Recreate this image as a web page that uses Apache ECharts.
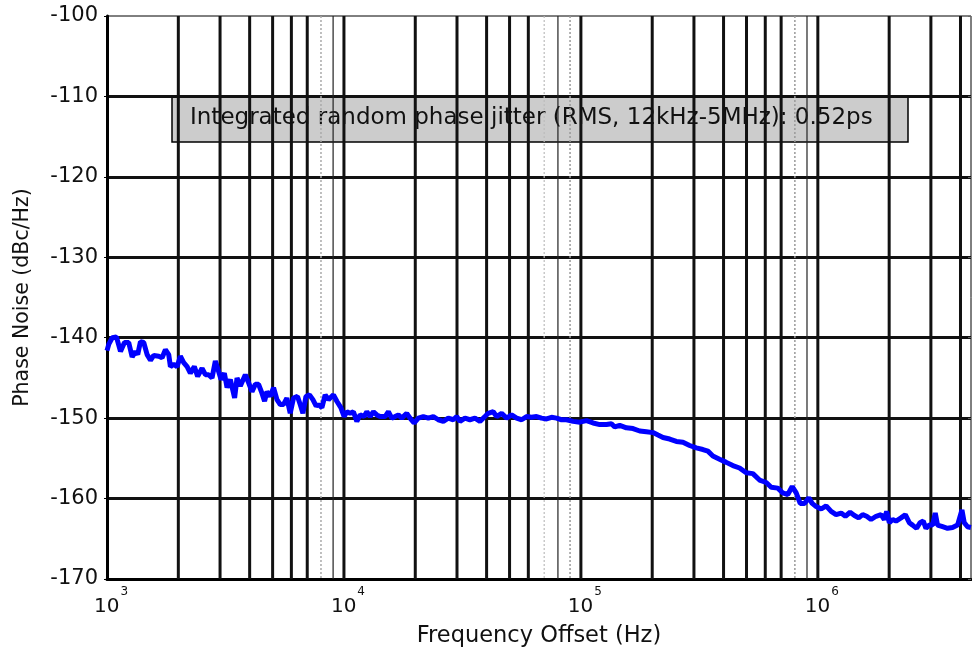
<!DOCTYPE html>
<html>
<head>
<meta charset="utf-8">
<script src="https://cdn.jsdelivr.net/npm/echarts@6/dist/echarts.min.js"></script>
<style>
html,body{margin:0;padding:0;background:#fff;}
#c{width:972px;height:656px;}
</style>
</head>
<body>
<div id="c"></div>
<script>
// Frequency offset (Hz)
var freqs = [1000,1018,1052,1096,1140,1185,1235,1277,1318,1348,1384,1429,1477,1526,1575,1653,1708,1764,1822,1852,1912,1976,2040,2107,2178,2248,2337,2413,2519,2601,2685,2775,2866,2959,3029,3128,3211,3315,3456,3538,3653,3835,3960,4092,4226,4363,4508,4624,4733,4887,5046,5215,5384,5560,5744,5932,6126,6368,6538,6712,6912,7155,7395,7636,7808,8070,8332,8605,8748,9032,9334,9703,10020,10285,10620,10965,11333,11702,12166,12490,12896,13315,13760,14207,14915,15400,15916,16437,16971,17539,18413,19011,19761,20606,21627,22703,23836,25021,26266,27568,28935,29903,30876,32411,34021,35716,37497,39357,40639,42658,44086,46281,48584,51000,53540,56206,58990,61923,65007,68233,71614,75177,78923,82830,86960,92710,98950,105580,112560,120130,128230,134590,138970,145870,155670,165960,177130,189020,201540,211530,222070,236950,252850,269580,287680,306970,327340,343560,360610,384800,410800,437900,467300,498500,531800,567500,605500,635600,677700,711400,746900,779400,810300,842300,878300,915800,946200,983700,1033000,1084000,1138000,1194000,1254000,1307000,1368000,1427000,1487000,1546000,1607000,1677000,1761000,1848000,1908000,1952000,2003000,2068000,2138000,2244000,2340000,2432000,2511000,2611000,2698000,2786000,2860000,2953000,3049000,3130000,3201000,3361000,3527000,3703000,3887000,4057000,4148000,4283000,4426000];
// Phase noise (dBc/Hz)
var phaseNoise = [-141.6,-140.8,-140.0,-139.9,-141.7,-140.6,-140.6,-142.4,-141.7,-142.1,-140.5,-140.6,-142.1,-142.8,-142.2,-142.3,-142.5,-141.5,-142.1,-143.6,-143.3,-143.6,-142.3,-143.1,-143.6,-144.4,-143.6,-144.8,-143.8,-144.6,-144.6,-145.0,-142.9,-144.2,-145.2,-144.4,-146.2,-145.2,-147.5,-145.0,-146.0,-144.6,-145.6,-146.7,-145.8,-145.8,-146.9,-147.9,-146.7,-147.3,-146.2,-147.7,-148.3,-148.3,-147.5,-149.4,-147.5,-147.3,-148.3,-149.4,-147.3,-147.1,-147.7,-148.5,-148.3,-148.7,-147.1,-147.7,-147.7,-147.1,-147.9,-148.7,-149.8,-149.2,-149.4,-149.2,-150.4,-149.6,-149.8,-149.2,-149.8,-149.2,-149.6,-149.8,-149.8,-149.2,-150.0,-149.8,-149.6,-150.0,-149.4,-150.0,-150.6,-150.0,-149.8,-150.0,-149.8,-150.2,-150.4,-150.0,-150.2,-149.8,-150.4,-150.0,-150.2,-150.0,-150.4,-149.8,-149.4,-149.2,-149.8,-149.4,-150.0,-149.6,-150.0,-150.2,-149.8,-149.9,-149.8,-150.0,-150.1,-149.9,-150.0,-150.2,-150.2,-150.4,-150.5,-150.3,-150.6,-150.8,-150.8,-150.7,-151.1,-150.9,-151.2,-151.3,-151.6,-151.7,-151.8,-152.1,-152.4,-152.6,-152.9,-153.0,-153.4,-153.7,-153.9,-154.1,-154.7,-155.1,-155.5,-155.9,-156.2,-156.8,-156.9,-157.7,-158.0,-158.6,-158.7,-159.3,-159.5,-158.5,-159.3,-160.6,-160.6,-159.9,-160.6,-161.0,-161.3,-160.9,-161.6,-162.0,-161.8,-162.2,-161.7,-162.1,-162.4,-162.0,-162.2,-162.6,-162.2,-162.0,-162.6,-161.6,-163.0,-162.6,-162.8,-162.4,-162.0,-163.0,-163.3,-163.7,-163.0,-162.8,-163.7,-163.3,-163.3,-161.8,-163.3,-163.5,-163.7,-163.6,-163.3,-161.4,-163.0,-163.5,-163.6];
// Axis settings / tick values
var xMin = 1000, xMax = 4430000;
var yMin = -170, yMax = -100, yStep = 10;
var decades = [1000, 10000, 100000, 1000000];
var mantissas = [1,2,3,4,5,6,7,8,9];
var annotationText = 'Integrated random phase jitter (RMS, 12kHz-5MHz): 0.52ps';

var gridFreqs = [];
decades.forEach(function (d) {
  mantissas.forEach(function (m) {
    var f = d * m;
    if (f > xMin && f < xMax) gridFreqs.push([f, m, d]);
  });
});

var lineData = freqs.map(function (f, i) { return [f, phaseNoise[i]]; });

var chart = echarts.init(document.getElementById('c'), null, {renderer: 'canvas'});
var FONT = 'DejaVu Sans, sans-serif';

function gridStyle(m, d) {
  if (d === 1000 && m === 8) return {stroke: '#aaaaaa', lineWidth: 1.5, lineDash: [2, 2]};
  if (d === 1000 && m === 9) return {stroke: '#222', lineWidth: 1.2};
  if (d === 10000 && m === 7) return {stroke: '#bbbbbb', lineWidth: 1.2, lineDash: [2, 2]};
  if (d === 10000 && m === 8) return {stroke: '#222', lineWidth: 1.2};
  if (d === 10000 && m === 9) return {stroke: '#999999', lineWidth: 1.5, lineDash: [2, 2]};
  if (d === 100000 && m === 8) return {stroke: '#999999', lineWidth: 1.5, lineDash: [2, 2]};
  if (d === 100000 && m === 9) return {stroke: '#222', lineWidth: 1.2};
  return {stroke: '#111', lineWidth: 3};
}

chart.setOption({
  animation: false,
  backgroundColor: '#fff',
  grid: {left: 107, right: 1, top: 16, bottom: 77, containLabel: false, outerBoundsMode: 'none',
         show: true, borderColor: '#000', borderWidth: 1},
  xAxis: {
    type: 'log', logBase: 10, min: xMin, max: xMax,
    name: 'Frequency Offset (Hz)', nameLocation: 'middle', nameGap: 46,
    nameTextStyle: {fontSize: 22.5, fontFamily: FONT, color: '#111'},
    axisLine: {show: true, lineStyle: {color: '#000', width: 3}},
    axisTick: {show: false},
    splitLine: {show: false},
    minorSplitLine: {show: false},
    axisLabel: {
      showMaxLabel: false, margin: 6,
      formatter: function (v) {
        var e = Math.log10(v);
        if (Math.abs(e - Math.round(e)) > 1e-6) return '';
        return '{s|}{b|10}{e|' + Math.round(e) + '}';
      },
      rich: {
        s: {width: 8},
        b: {fontSize: 20, fontFamily: FONT, color: '#111', padding: [12, 0, 0, 0]},
        e: {fontSize: 12, fontFamily: FONT, color: '#111', padding: [0, 0, 18, 1]}
      }
    }
  },
  yAxis: [{
    type: 'value', min: yMin, max: yMax, interval: yStep,
    name: 'Phase Noise (dBc/Hz)', nameLocation: 'middle', nameGap: 74, nameRotate: 90,
    nameTextStyle: {fontSize: 20.5, fontFamily: FONT, color: '#111'},
    axisLine: {show: true, lineStyle: {color: '#000', width: 3}},
    axisTick: {show: true, length: 3, lineStyle: {color: '#000', width: 1}},
    axisLabel: {fontSize: 21, fontFamily: FONT, color: '#111', margin: 9},
    splitLine: {show: true, showMaxLine: false, showMinLine: false, lineStyle: {color: '#111', width: 3}}
  }, {
    type: 'value', min: yMin, max: yMax, interval: yStep, position: 'right',
    axisLine: {show: false}, axisLabel: {show: false}, splitLine: {show: false},
    axisTick: {show: true, inside: true, length: 3, lineStyle: {color: '#666', width: 1}}
  }],
  series: [{
    type: 'custom', z: 1, silent: true,
    data: gridFreqs,
    renderItem: function (params, api) {
      var f = api.value(0), m = api.value(1), d = api.value(2);
      var p1 = api.coord([f, yMax]);
      var p2 = api.coord([f, yMin]);
      return {type: 'line', shape: {x1: p1[0], y1: p1[1], x2: p2[0], y2: p2[1]}, style: gridStyle(m, d)};
    },
    encode: {x: 0, y: 1}
  }, {
    type: 'line', z: 5, data: lineData, showSymbol: false, symbol: 'none', smooth: false,
    lineStyle: {color: '#0000ff', width: 5}, silent: true, clip: true
  }],
  graphic: [{
    type: 'group', zlevel: 1, z: 100, children: [{
      type: 'rect', shape: {x: 172, y: 96, width: 736, height: 46},
      style: {fill: '#cccccc', stroke: '#000', lineWidth: 1.5}
    }, {
      type: 'text', x: 190, y: 118,
      style: {text: annotationText, fontSize: 23, fontFamily: FONT, fill: '#111', verticalAlign: 'middle', align: 'left'}
    }]
  }]
});
</script>
</body>
</html>
